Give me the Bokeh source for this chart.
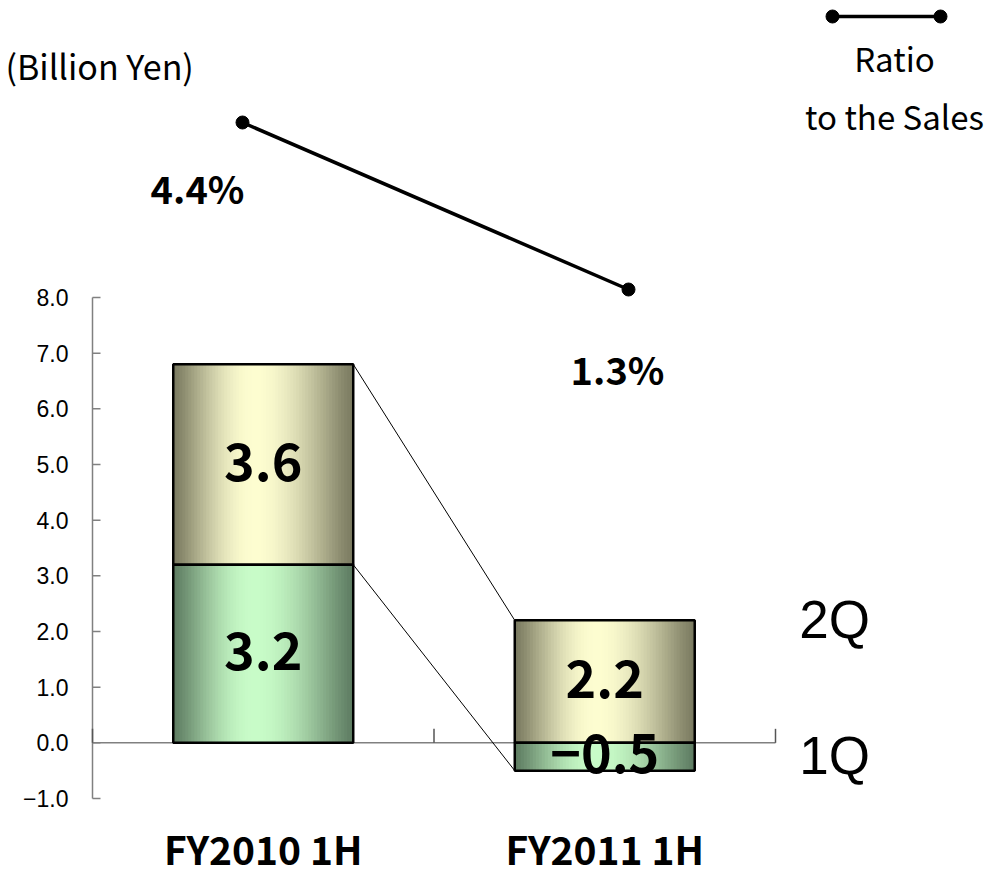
import numpy as np
from bokeh.plotting import figure
from bokeh.models import Range1d, ColumnDataSource
from bokeh.core.properties import value
from bokeh.embed import file_html
from bokeh.resources import INLINE

# ---------------- data ----------------
categories = ["FY2010 1H", "FY2011 1H"]
quarters = ["1Q", "2Q"]
q1_values = [3.2, -0.5]
q2_values = [3.6, 2.2]
ratio_values = [4.4, 1.3]
ratio_labels = ["4.4%", "1.3%"]
y_ticks = [-1.0, 0.0, 1.0, 2.0, 3.0, 4.0, 5.0, 6.0, 7.0, 8.0]
unit_label = "(Billion Yen)"
legend_lines = ["Ratio", "to the Sales"]

# ---------------- layout / styles ----------------
W, H = 992, 876
AX_PX = 92                                 # column of the value axis
XPX = 341.5                                # px per category
YPX = 55.67                                # px per billion yen
YMIN_PX = 798                              # row of y = -1
BAR_W = 0.527
RXPX, RX_REF = 386, 242                    # ratio line: px per category, column of first point
R1_PX, R2_PX = 122, 289                    # ratio line: rows of first/last point
GREEN = ((94, 124, 98), (200, 252, 200))
YELLOW = ((122, 122, 96), (253, 253, 208))
AXIS_GRAY = "#808080"
FONT_JP = "Noto Sans CJK JP"
FONT_SANS = "Liberation Sans"

xc = np.arange(len(categories)) + 0.5
ncat = len(categories)


def px_x(px):
    return (px - AX_PX) / XPX


def px_y(py):
    return min(y_ticks) + (YMIN_PX - py) / YPX


ry_per = (R2_PX - R1_PX) / (ratio_values[0] - ratio_values[1])


def r_x(px):
    return xc[0] + (px - RX_REF) / RXPX


def r_y(py):
    return ratio_values[0] - (py - R1_PX) / ry_per


p = figure(width=W, height=H, output_backend="svg", toolbar_location=None,
           x_range=Range1d(px_x(0), px_x(W)), y_range=Range1d(px_y(H), px_y(0)),
           x_axis_location=None, y_axis_location=None,
           min_border_left=0, min_border_right=0, min_border_top=0, min_border_bottom=0)
p.extra_x_ranges = {"ratio": Range1d(r_x(0), r_x(W))}
p.extra_y_ranges = {"ratio": Range1d(r_y(H), r_y(0))}
p.outline_line_color = None
p.grid.visible = False
p.background_fill_color = "white"
p.border_fill_color = "white"

# ---- value axis (line, inward ticks, labels) ----
p.line([0, 0], [min(y_ticks), max(y_ticks)], line_color=AXIS_GRAY, line_width=1.5)
p.segment(x0=[0] * len(y_ticks), y0=y_ticks, x1=[8 / XPX] * len(y_ticks), y1=y_ticks,
          line_color=AXIS_GRAY, line_width=1.5)
p.text(x=[0] * len(y_ticks), y=y_ticks,
       text=[("%.1f" % v).replace("-", "\u2212") for v in y_ticks],
       x_offset=-24, text_font=value(FONT_SANS), text_font_size="23px",
       text_align="right", text_baseline="middle", text_color="black")

# ---- zero line with category dividers ----
p.line([0, ncat], [0, 0], line_color=AXIS_GRAY, line_width=1.5)
p.segment(x0=list(range(ncat + 1)), y0=[0] * (ncat + 1), x1=list(range(ncat + 1)),
          y1=[14 / YPX] * (ncat + 1), line_color="#555555", line_width=1.5)

# ---- category labels ----
p.text(x=list(xc), y=[px_y(847)] * ncat, text=categories, text_font=value(FONT_JP),
       text_font_size="39px", text_font_style="bold", text_align="center",
       text_baseline="middle", text_color="black")

# ---- stacked bars (Excel style: positives and negatives stacked separately) ----
segments = []
for i, x in enumerate(xc):
    pos, neg = 0.0, 0.0
    for s, vals in enumerate([q1_values, q2_values]):
        v = vals[i]
        if v >= 0:
            segments.append((x, pos, pos + v, s, v))
            pos += v
        else:
            segments.append((x, neg + v, neg, s, v))
            neg += v

N = 60
t = (np.arange(N) + 0.5) / N
peak = 0.45
prof = np.where(t < peak, t / peak, (1 - t) / (1 - peak))
prof = np.sin(prof * np.pi / 2) ** 1.2
overlap = 1.0 / XPX

strip = dict(left=[], right=[], bottom=[], top=[], color=[])
outline = dict(left=[], right=[], bottom=[], top=[])
lab = dict(x=[], y=[], text=[])
for (x, b, tp, s, v) in segments:
    dark, light = (GREEN, YELLOW)[s]
    x0 = x - BAR_W / 2
    for k in range(N):
        c = tuple(int(round(dark[j] + (light[j] - dark[j]) * prof[k])) for j in range(3))
        strip["left"].append(x0 + BAR_W * k / N)
        strip["right"].append(min(x0 + BAR_W * (k + 1) / N + overlap, x0 + BAR_W))
        strip["bottom"].append(b)
        strip["top"].append(tp)
        strip["color"].append("#%02x%02x%02x" % c)
    outline["left"].append(x0)
    outline["right"].append(x0 + BAR_W)
    outline["bottom"].append(b)
    outline["top"].append(tp)
    lab["x"].append(x)
    lab["y"].append((b + tp) / 2)
    lab["text"].append(("%.1f" % v).replace("-", "\u2212"))

p.quad(source=ColumnDataSource(strip), left="left", right="right", bottom="bottom",
       top="top", fill_color="color", line_color=None)
p.quad(source=ColumnDataSource(outline), left="left", right="right", bottom="bottom",
       top="top", fill_color=None, line_color="black", line_width=2.5)

# series lines
for s in range(len(quarters)):
    segs = [sg for sg in segments if sg[3] == s]
    a, b = segs[0], segs[1]
    ya = a[2] if a[4] >= 0 else a[1]
    yb = b[2] if b[4] >= 0 else b[1]
    p.line([a[0] + BAR_W / 2, b[0] - BAR_W / 2], [ya, yb], line_color="black", line_width=1)

p.text(source=ColumnDataSource(lab), x="x", y="y", text="text", y_offset=-3,
       text_font=value(FONT_JP), text_font_size="52px", text_font_style="bold",
       text_align="center", text_baseline="middle", text_color="black")

# ---- quarter labels right of chart ----
p.text(x=[px_x(834)] * 2, y=[px_y(755), px_y(619)], text=quarters,
       text_font=value(FONT_SANS), text_font_size="53px", text_align="center",
       text_baseline="middle", text_color="black")

# ---- ratio line ----
rsrc = ColumnDataSource(dict(x=list(xc), y=ratio_values, text=ratio_labels,
                             xo=[-45, -11], yo=[65, 79]))
p.line("x", "y", source=rsrc, x_range_name="ratio", y_range_name="ratio",
       line_color="black", line_width=3.5)
p.scatter("x", "y", source=rsrc, x_range_name="ratio", y_range_name="ratio",
          size=13, fill_color="black", line_color="black")
p.text("x", "y", text="text", source=rsrc, x_range_name="ratio", y_range_name="ratio",
       x_offset="xo", y_offset="yo", text_font=value(FONT_JP), text_font_size="38px",
       text_font_style="bold", text_align="center", text_baseline="middle",
       text_color="black")

# ---- legend ----
lx = [px_x(832), px_x(940)]
ly = [px_y(16), px_y(16)]
p.line(lx, ly, line_color="black", line_width=3.5)
p.scatter(lx, ly, size=13, fill_color="black", line_color="black")
p.text(x=[px_x(894)] * 2, y=[px_y(57), px_y(115)], text=legend_lines,
       text_font=value(FONT_JP), text_font_size="33px", text_align="center",
       text_baseline="middle", text_color="black")

# ---- unit label ----
p.text(x=[px_x(5)], y=[px_y(65)], text=[unit_label], text_font=value(FONT_JP),
       text_font_size="34px", text_align="left", text_baseline="middle",
       text_color="black")

open("out.html", "w").write(file_html(p, INLINE))
